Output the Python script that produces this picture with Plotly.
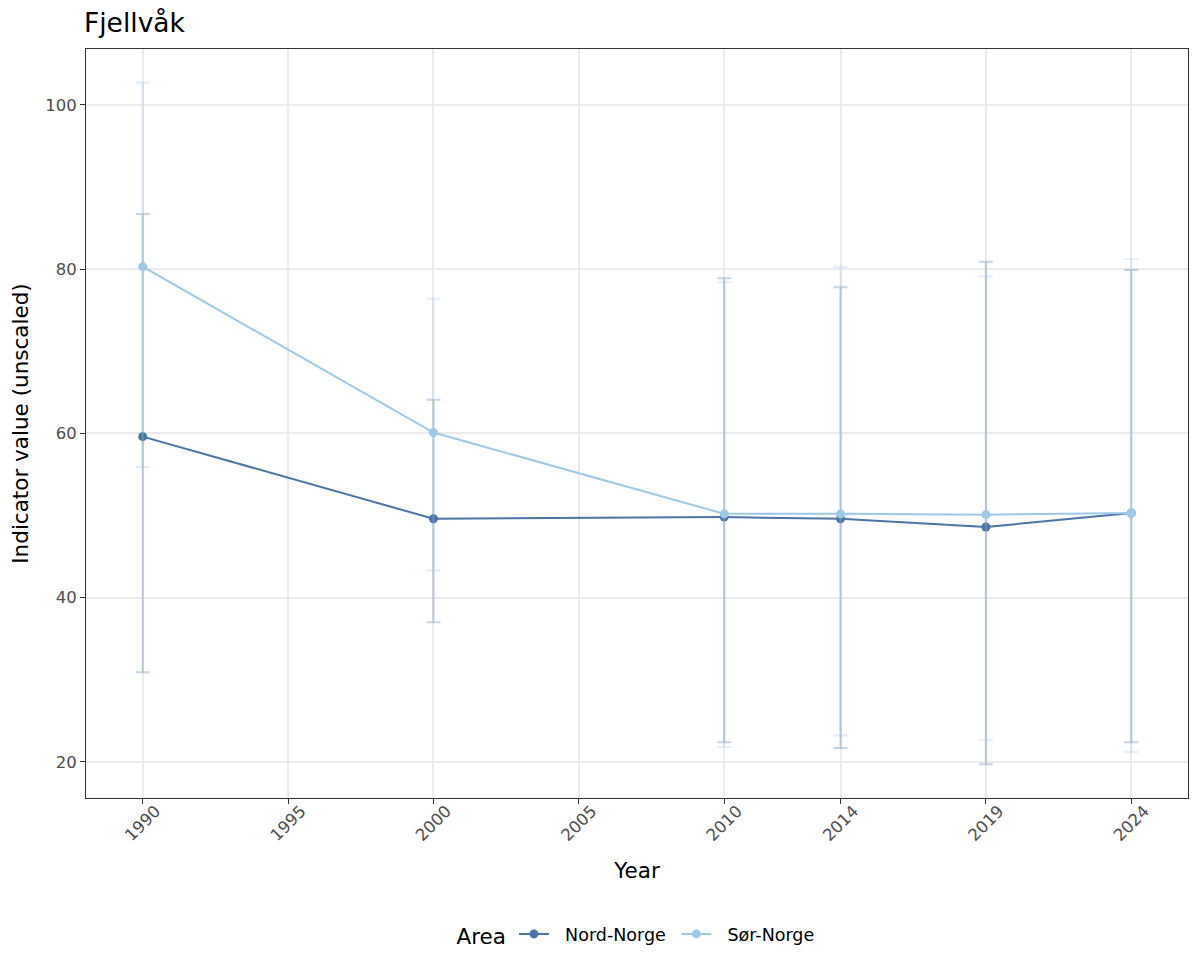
import plotly.graph_objects as go

years = [1990, 2000, 2010, 2014, 2019, 2024]
tick_years = [1990, 1995, 2000, 2005, 2010, 2014, 2019, 2024]

nord_value = [59.6, 49.6, 49.8, 49.6, 48.6, 50.3]
nord_lower = [30.9, 37.0, 22.4, 21.7, 19.7, 22.4]
nord_upper = [86.7, 64.1, 78.9, 77.8, 80.9, 79.9]

sor_value = [80.3, 60.1, 50.2, 50.2, 50.1, 50.3]
sor_lower = [55.9, 43.3, 21.8, 23.2, 22.7, 21.2]
sor_upper = [102.7, 76.4, 78.4, 80.3, 79.1, 81.2]

nbsp = "\u00a0"
series = [
    (nbsp * 2 + "Nord-Norge" + nbsp, nord_value, nord_lower, nord_upper,
     "#4a75a7", "rgba(74,117,167,0.32)"),
    (nbsp * 2 + "Sør-Norge", sor_value, sor_lower, sor_upper,
     "#9dc9e9", "rgba(157,201,233,0.32)"),
]

fig = go.Figure()
for name, val, lo, hi, col, ecol in series:
    fig.add_trace(
        go.Scatter(
            x=years,
            y=val,
            mode="lines+markers",
            name=name,
            line=dict(color=col, width=2),
            marker=dict(color=col, size=9),
            error_y=dict(
                type="data",
                symmetric=False,
                array=[h - v for h, v in zip(hi, val)],
                arrayminus=[v - l for v, l in zip(val, lo)],
                color=ecol,
                thickness=2,
                width=7,
            ),
        )
    )

# the page body adds an 8px offset, so margins are shifted to compensate
fig.update_layout(
    width=1200,
    height=975,
    font=dict(family="DejaVu Sans", color="#000000"),
    plot_bgcolor="white",
    paper_bgcolor="white",
    margin=dict(l=76, r=20, t=41, b=185),
    title=dict(
        text="Fjellvåk",
        x=76 / 1200,
        xanchor="left",
        y=1 - 15 / 975,
        yanchor="middle",
        font=dict(size=26.5, color="#000000"),
    ),
    xaxis=dict(
        range=[1988.05, 2025.95],
        tickmode="array",
        tickvals=tick_years,
        ticktext=[str(y) for y in tick_years],
        tickangle=-45,
        tickfont=dict(size=16.5, color="#4d4d4d"),
        ticklabelshift=13,
        ticklabelstandoff=-9,
        ticks="outside",
        ticklen=5,
        tickcolor="#333333",
        showgrid=True,
        gridcolor="#ebebeb",
        gridwidth=1.5,
        zeroline=False,
        showline=True,
        linecolor="#333333",
        linewidth=1,
        mirror=True,
        title=dict(text="Year", font=dict(size=21.5), standoff=19),
    ),
    yaxis=dict(
        range=[15.6, 106.8],
        tickvals=[20, 40, 60, 80, 100],
        tickfont=dict(size=16.5, color="#4d4d4d"),
        ticks="outside",
        ticklen=5,
        tickcolor="#333333",
        showgrid=True,
        gridcolor="#ebebeb",
        gridwidth=1.5,
        zeroline=False,
        showline=True,
        linecolor="#333333",
        linewidth=1,
        mirror=True,
        title=dict(text="Indicator value (unscaled)", font=dict(size=21.5), standoff=10),
    ),
    legend=dict(
        orientation="h",
        x=0.5,
        xanchor="center",
        y=-0.183,
        yanchor="middle",
        title=dict(text="Area", font=dict(size=21.5)),
        font=dict(size=17.5),
    ),
)

fig.write_html("out.html")
